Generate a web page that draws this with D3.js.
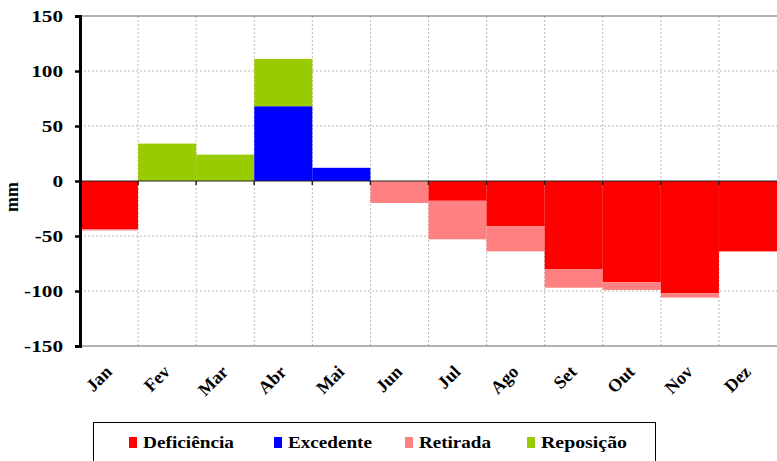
<!DOCTYPE html>
<html>
<head>
<meta charset="utf-8">
<script src="https://cdn.jsdelivr.net/npm/d3@7/dist/d3.min.js"></script>
<style>
  html, body { margin: 0; padding: 0; background: #fff; }
  text { font-family: 'Liberation Serif', 'Times New Roman', Times, serif; font-weight: 700; }
</style>
</head>
<body>
<svg id="chart" width="777" height="461"></svg>
<script>
const months = ["Jan","Fev","Mar","Abr","Mai","Jun","Jul","Ago","Set","Out","Nov","Dez"];
const deficiencia = [44, 0, 0, 0, 0, 0, 18, 41, 80, 92, 102, 64];
const excedente   = [0, 0, 0, 68, 12, 0, 0, 0, 0, 0, 0, 0];
const retirada    = [1, 0, 0, 0, 0, 20, 35, 23, 17, 7, 4, 0];
const reposicao   = [0, 34, 24, 43, 0, 0, 0, 0, 0, 0, 0, 0];
const yTicks = [-150, -100, -50, 0, 50, 100, 150];
const seriesNames = ["Deficiência", "Excedente", "Retirada", "Reposição"];
const seriesColors = ["#ff0000", "#0000ff", "#ff8080", "#99cc00"];

(function() {
const FONT = "'Liberation Serif', 'Times New Roman', Times, serif";
const svg = d3.select("#chart");
const pL = 80, pR = 777, pT = 16, pB = 346;

const x = d3.scaleBand().domain(months).range([pL, pR]).padding(0);
const y = d3.scaleLinear().domain([-150, 150]).range([pB, pT]);

// gridlines
const grid = svg.append("g");
yTicks.filter(v => v !== 0 && Math.abs(v) !== 150).forEach(v => {
  grid.append("line").attr("x1", pL).attr("x2", pR).attr("y1", y(v)).attr("y2", y(v))
    .attr("stroke", "#b8b8b8").attr("stroke-dasharray", "2,2").attr("stroke-width", 1);
});
months.slice(1).forEach(m => {
  grid.append("line").attr("x1", x(m)).attr("x2", x(m)).attr("y1", pT).attr("y2", pB)
    .attr("stroke", "#b8b8b8").attr("stroke-dasharray", "2,2").attr("stroke-width", 1);
});
grid.append("line").attr("x1", pL).attr("x2", pR).attr("y1", y(150)).attr("y2", y(150))
  .attr("stroke", "#666").attr("stroke-width", 1);
grid.append("line").attr("x1", pL).attr("x2", pR).attr("y1", y(-150)).attr("y2", y(-150))
  .attr("stroke", "#666").attr("stroke-width", 1);

// bars
const bars = svg.append("g");
months.forEach((m, i) => {
  const bx = x(m), bw = x.bandwidth();
  let pos = 0;
  [[excedente[i], seriesColors[1]], [reposicao[i], seriesColors[3]]].forEach(([v, c]) => {
    if (v > 0) {
      bars.append("rect").attr("x", bx).attr("width", bw)
        .attr("y", y(pos + v)).attr("height", y(pos) - y(pos + v)).attr("fill", c);
      pos += v;
    }
  });
  let neg = 0;
  [[deficiencia[i], seriesColors[0]], [retirada[i], seriesColors[2]]].forEach(([v, c]) => {
    if (v > 0) {
      bars.append("rect").attr("x", bx).attr("width", bw)
        .attr("y", y(neg)).attr("height", y(neg - v) - y(neg)).attr("fill", c);
      neg -= v;
    }
  });
});

// zero line with category ticks
svg.append("line").attr("x1", pL).attr("x2", pR).attr("y1", y(0)).attr("y2", y(0))
  .attr("stroke", "#222").attr("stroke-width", 1);
months.slice(1).forEach(m => {
  svg.append("line").attr("x1", x(m)).attr("x2", x(m)).attr("y1", y(0)).attr("y2", y(0) + 4)
    .attr("stroke", "#222").attr("stroke-width", 1.5);
});

// y axis
const yAxis = svg.append("g").attr("transform", `translate(${pL},0)`)
  .call(d3.axisLeft(y).tickValues(yTicks).tickSize(5).tickPadding(12).tickFormat(d => String(d)));
yAxis.attr("font-family", FONT);
yAxis.select(".domain").attr("stroke", "#000").attr("stroke-width", 3);
yAxis.selectAll(".tick line").attr("stroke", "#000").attr("stroke-width", 2.5);
yAxis.selectAll(".tick text").attr("fill", "#000").attr("font-size", 17)
  .attr("font-family", FONT).attr("font-weight", "bold")
  .each(function() {
    const w = this.getComputedTextLength();
    d3.select(this).attr("textLength", w * 1.25).attr("lengthAdjust", "spacingAndGlyphs");
  });

// y title
svg.append("text").attr("transform", `translate(18,197) rotate(-90)`)
  .attr("font-family", FONT).attr("font-weight", "bold")
  .attr("text-anchor", "middle").attr("font-size", 18).text("mm");

// x labels
months.forEach(m => {
  const cx = x(m) + x.bandwidth() / 2;
  svg.append("text").attr("transform", `translate(${cx + 4},${373}) rotate(-45)`)
    .attr("font-family", FONT).attr("font-weight", "bold")
    .attr("text-anchor", "end").attr("font-size", 18).text(m);
});

// legend
const lg = svg.append("g");
lg.append("rect").attr("x", 93.5).attr("y", 422.5).attr("width", 562).attr("height", 60)
  .attr("fill", "#fff").attr("stroke", "#000").attr("stroke-width", 1);
const legendX = [129, 274, 405, 527];
const legendW = [91, 84, 72, 86];
seriesNames.forEach((n, i) => {
  lg.append("rect").attr("x", legendX[i]).attr("y", 437).attr("width", 8).attr("height", 11)
    .attr("fill", seriesColors[i]);
  lg.append("text").attr("x", legendX[i] + 14).attr("y", 448).attr("font-size", 17.5)
    .attr("font-family", FONT).attr("font-weight", "bold")
    .attr("textLength", legendW[i]).attr("lengthAdjust", "spacingAndGlyphs").text(n);
});
})();
</script>
</body>
</html>
